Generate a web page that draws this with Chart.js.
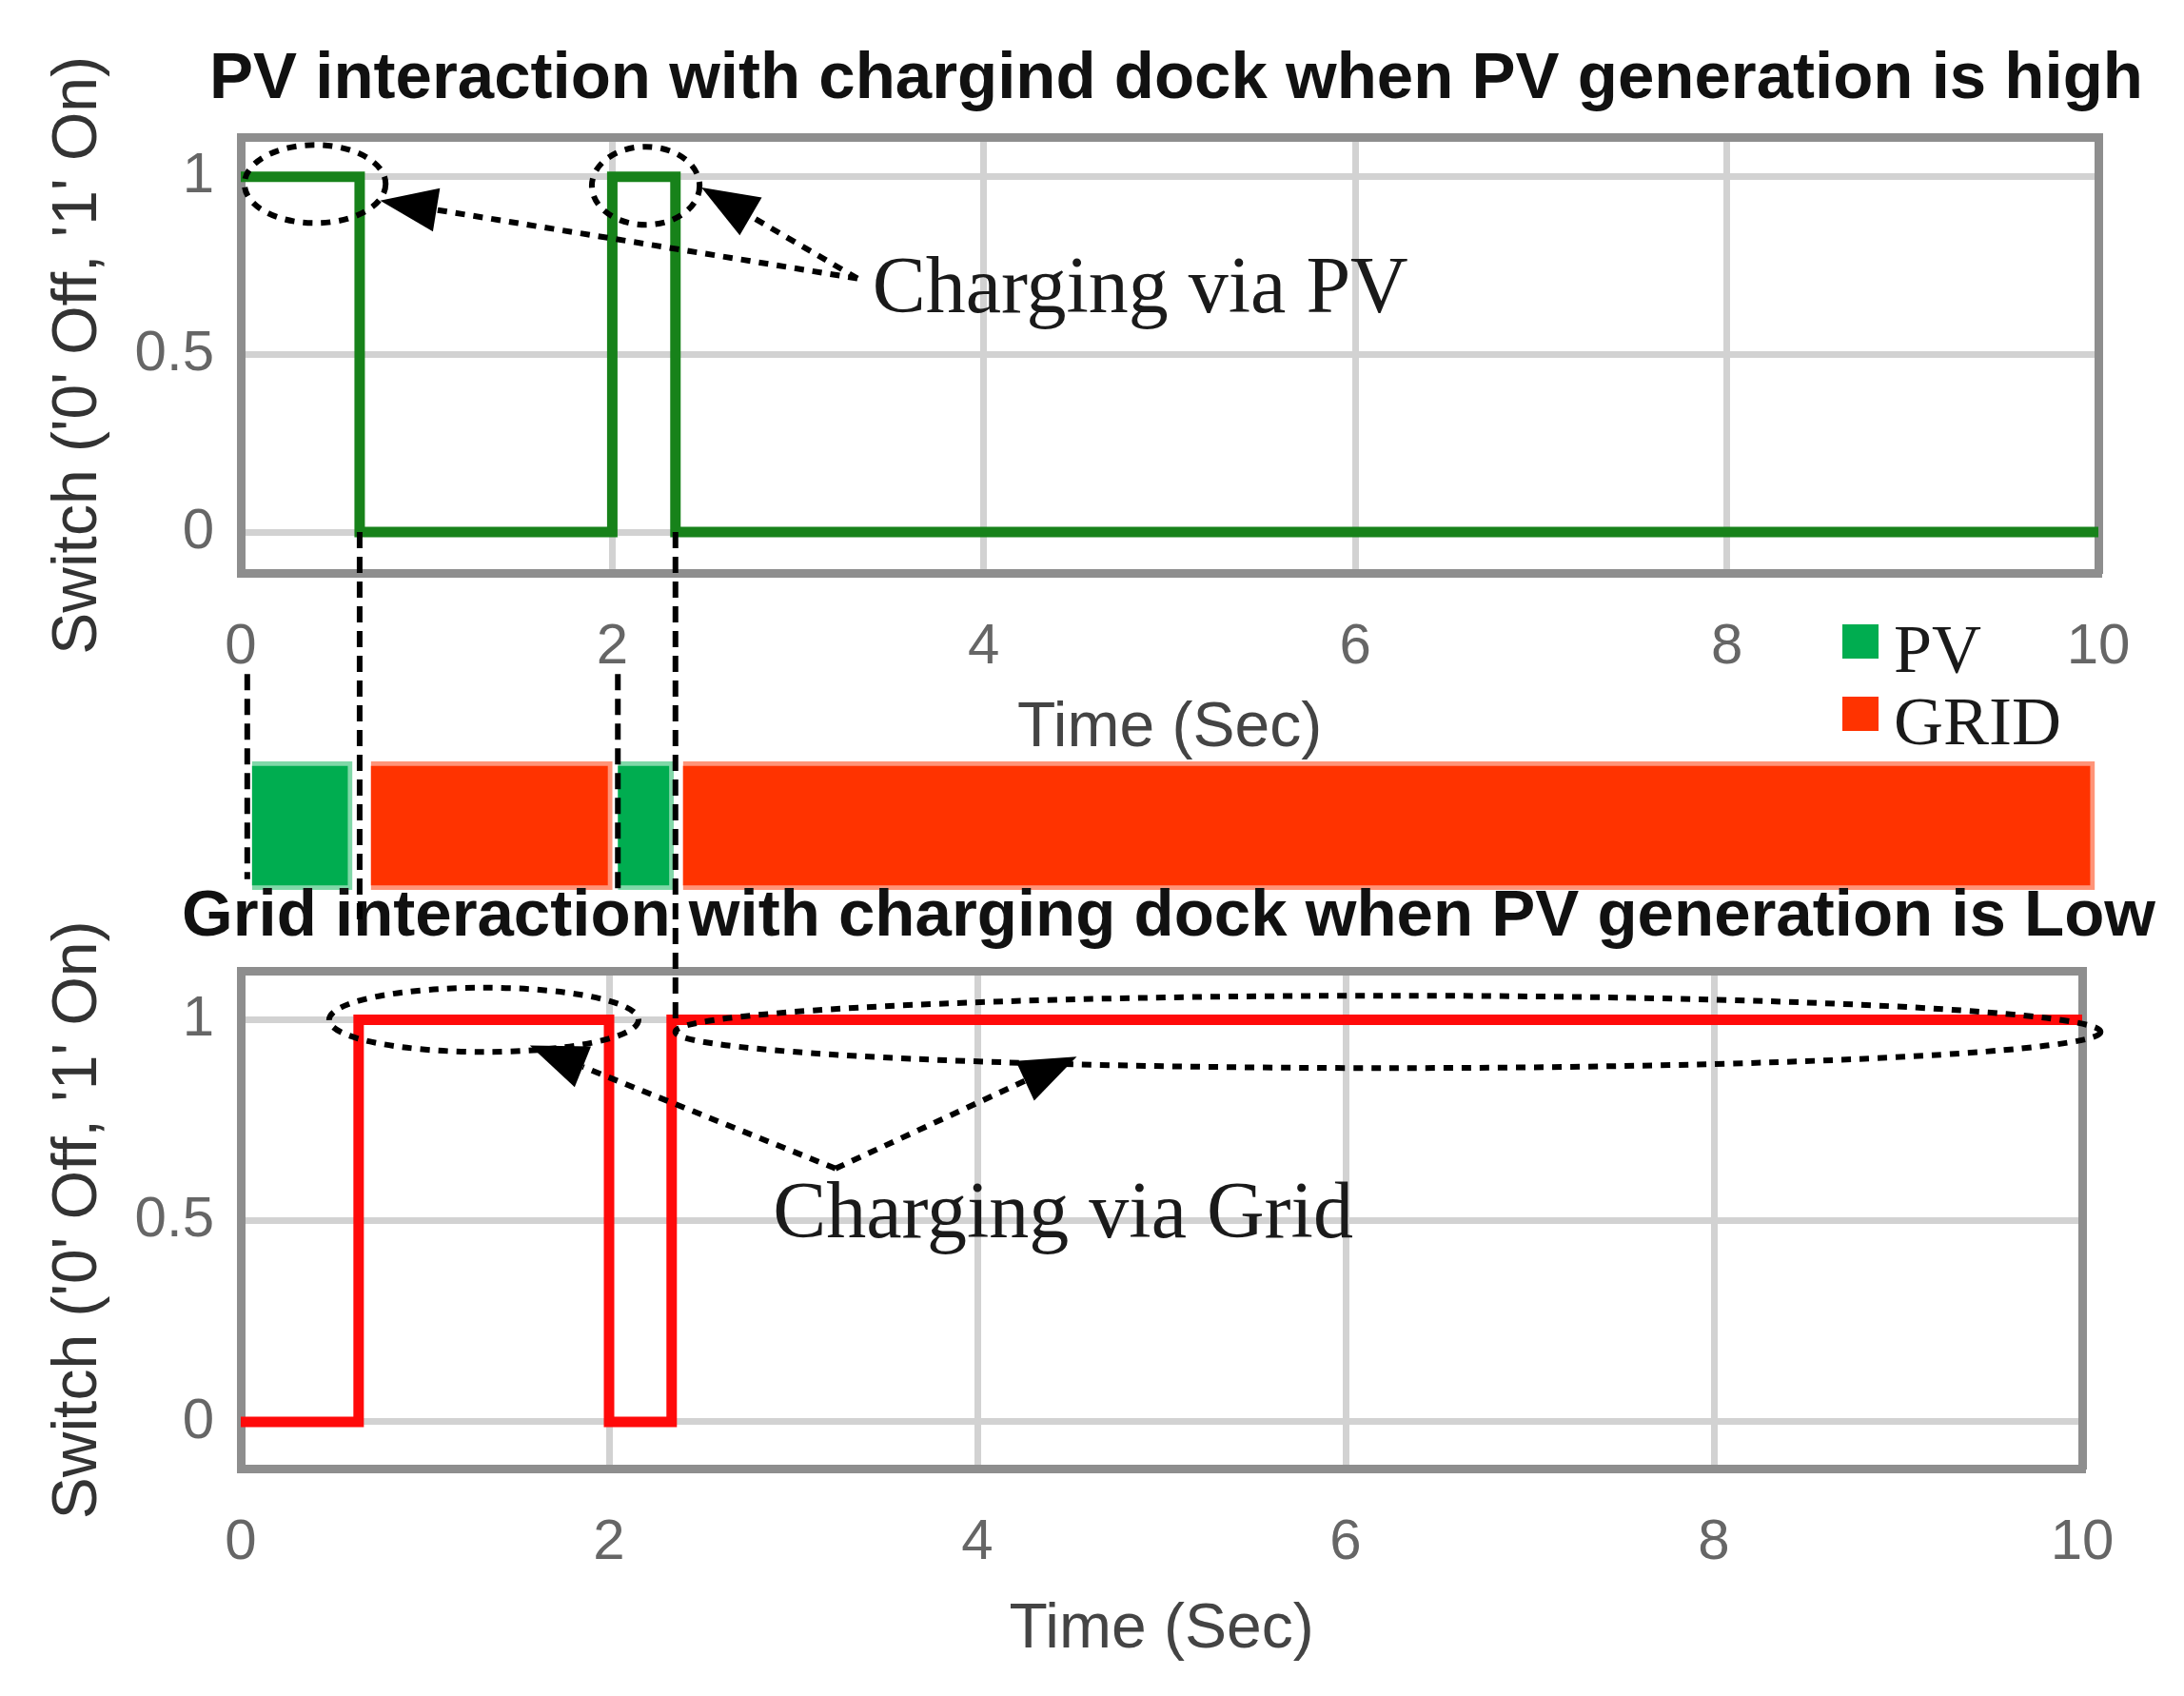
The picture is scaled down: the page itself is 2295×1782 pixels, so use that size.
<!DOCTYPE html>
<html>
<head>
<meta charset="utf-8">
<script src="https://cdn.jsdelivr.net/npm/chart.js@4.4.1/dist/chart.umd.min.js"></script>
<style>
  html, body { margin: 0; padding: 0; background: #fff; overflow: hidden; width: 2295px; height: 1782px; }
  canvas { position: absolute; left: 0; }
  #topChart { top: 0; }
  #barChart { top: 760px; }
  #bottomChart { top: 900px; }
  #overlay { top: 0; pointer-events: none; }
</style>
</head>
<body>
<canvas id="topChart" width="2472" height="820"></canvas>
<canvas id="barChart" width="2472" height="200"></canvas>
<canvas id="bottomChart" width="2456" height="882"></canvas>
<canvas id="overlay" width="2295" height="1782"></canvas>
<script>
// switching instants (sec) and the switch state after each instant
var switchTimes = [0, 0.64, 2.0, 2.34, 10];
var pvState = [1, 0, 1, 0, 0];
var gridState = [0, 1, 0, 1, 1];

// source bar between the two plots: [start, end] in sec
var pvSegments = [[0.06, 0.60], [2.03, 2.33]];
var gridSegments = [[0.70, 2.00], [2.38, 9.98]];

var xTickValues = [0, 2, 4, 6, 8, 10];
var yTickValues = [0, 0.5, 1];

Chart.defaults.font.family = "'Liberation Sans', Arial, sans-serif";

function switchPoints(states) {
    return switchTimes.map(function (t, i) { return { x: t, y: states[i] }; });
}
function fixWidth(w) { return function (scale) { scale.width = w; }; }
function fixHeight(h) { return function (scale) { scale.height = h; }; }

var borderStyle = { display: true, color: "#8e8e8e", width: 9 };
var gridStyle = { color: "#d2d2d2", lineWidth: 7, drawTicks: false };

function switchChart(id, o) {
    return new Chart(document.getElementById(id), {
        type: "line",
        data: {
            datasets: [{
                data: switchPoints(o.states),
                borderColor: o.color,
                borderWidth: 11,
                stepped: true,
                pointRadius: 0,
                fill: false
            }]
        },
        options: {
            responsive: false,
            animation: false,
            devicePixelRatio: 1,
            layout: { padding: 0 },
            plugins: {
                legend: { display: false },
                tooltip: { enabled: false },
                title: {
                    display: true,
                    text: o.title,
                    color: "#111",
                    font: { size: 69, weight: "bold" },
                    padding: o.titlePadding
                }
            },
            scales: {
                x: {
                    type: "linear", min: 0, max: 10,
                    afterBuildTicks: function (s) { s.ticks = xTickValues.map(function (v) { return { value: v }; }); },
                    afterFit: fixHeight(o.xAxisHeight),
                    grid: gridStyle,
                    border: borderStyle,
                    ticks: { padding: 42, color: "#666", font: { size: 60 } },
                    title: { display: true, text: "Time (Sec)", color: "#444", font: { size: 66 },
                             padding: { top: 0, bottom: o.xTitlePad } }
                },
                xTop: {
                    type: "linear", position: "top", min: 0, max: 10,
                    ticks: { display: false }, grid: { display: false },
                    border: borderStyle,
                    afterFit: fixHeight(0)
                },
                y: {
                    type: "linear", min: o.yMin, max: o.yMax,
                    afterBuildTicks: function (s) { s.ticks = yTickValues.map(function (v) { return { value: v }; }); },
                    afterFit: fixWidth(253),
                    grid: gridStyle,
                    border: borderStyle,
                    ticks: { padding: 28, color: "#666", font: { size: 60 },
                             callback: function (v) { return String(v); } },
                    title: { display: true, text: "Switch ('0' Off, '1' On)", color: "#333", font: { size: 66 },
                             padding: { top: 43, bottom: 0 } }
                },
                yRight: {
                    type: "linear", position: "right", min: o.yMin, max: o.yMax,
                    ticks: { display: false }, grid: { display: false },
                    border: borderStyle,
                    afterFit: fixWidth(o.rightWidth)
                }
            }
        }
    });
}

var topChart = switchChart("topChart", {
    states: pvState, color: "#17821a",
    title: "PV interaction with chargind dock when PV generation is high",
    titlePadding: { top: 43, bottom: 19 },
    xAxisHeight: 218, xTitlePad: 15,
    yMin: -0.115, yMax: 1.11, rightWidth: 2472 - 2205
});

var bottomChart = switchChart("bottomChart", {
    states: gridState, color: "#ff0a0a",
    title: "Grid interaction with charging dock when PV generation is Low",
    titlePadding: { top: 23, bottom: 15 },
    xAxisHeight: 239, xTitlePad: 30,
    yMin: -0.116, yMax: 1.12, rightWidth: 2456 - 2188
});

function segmentData(segs) {
    return segs.map(function (s) { return { x: s, y: "source" }; });
}

var barChart = new Chart(document.getElementById("barChart"), {
    type: "bar",
    data: {
        labels: ["source"],
        datasets: [{
            label: "PV",
            data: segmentData(pvSegments),
            backgroundColor: "#00ad50",
            borderColor: "#80d8a8",
            borderWidth: 5,
            grouped: false, barPercentage: 1, categoryPercentage: 1
        }, {
            label: "GRID",
            data: segmentData(gridSegments),
            backgroundColor: "#ff3300",
            borderColor: "#ff9478",
            borderWidth: 5,
            grouped: false, barPercentage: 1, categoryPercentage: 1
        }]
    },
    options: {
        indexAxis: "y",
        responsive: false,
        animation: false,
        devicePixelRatio: 1,
        layout: { padding: { left: 253, right: 267, top: 40, bottom: 25 } },
        plugins: { legend: { display: false }, tooltip: { enabled: false } },
        scales: {
            x: { type: "linear", min: 0, max: 10, display: false },
            y: { display: false }
        }
    }
});

// ---- annotations drawn over the three charts ----
var topOffset = 0, bottomOffset = 900;

function pt(chart, offset, x, y) {
    return { x: chart.scales.x.getPixelForValue(x), y: chart.scales.y.getPixelForValue(y) + offset };
}

// dashed connectors: time, y in top plot, y in bottom plot
var connectors = [
    { t: 0.035, fromY: -0.40, toY: 1.35 },
    { t: 0.64, fromY: 0, toY: 1.23 },
    { t: 2.03, fromY: -0.40, toY: 1.31 },
    { t: 2.34, fromY: 0, toY: 1 }
];
var topEllipses = [
    { cx: 0.40, cy: 0.98, rx: 0.38, ry: 0.11 },
    { cx: 2.18, cy: 0.975, rx: 0.29, ry: 0.11 }
];
var bottomEllipses = [
    { cx: 1.32, cy: 1.0, rx: 0.84, ry: 0.08 },
    { cx: 6.23, cy: 0.97, rx: 3.87, ry: 0.09 }
];
var topNote = { text: "Charging via PV", x: 3.40, y: 0.618, from: [3.32, 0.714], tips: [[0.75, 0.933], [2.48, 0.97]] };
var bottomNote = { text: "Charging via Grid", x: 2.89, y: 0.459, from: [3.23, 0.63], tips: [[1.57, 0.936], [4.54, 0.908]] };

var ctx = document.getElementById("overlay").getContext("2d");
ctx.strokeStyle = "#000";
ctx.fillStyle = "#000";
ctx.lineWidth = 6;

ctx.setLineDash([17, 9]);
connectors.forEach(function (c) {
    var a = pt(topChart, topOffset, c.t, c.fromY);
    var b = pt(bottomChart, bottomOffset, c.t, c.toY);
    ctx.beginPath();
    ctx.moveTo(a.x, a.y);
    ctx.lineTo(a.x, b.y);
    ctx.stroke();
});

function drawEllipses(chart, offset, list) {
    ctx.setLineDash([10, 9]);
    list.forEach(function (e) {
        var c = pt(chart, offset, e.cx, e.cy);
        var r = pt(chart, offset, e.cx + e.rx, e.cy + e.ry);
        ctx.beginPath();
        ctx.ellipse(c.x, c.y, Math.abs(r.x - c.x), Math.abs(r.y - c.y), 0, 0, Math.PI * 2);
        ctx.stroke();
    });
}

function drawNote(chart, offset, n) {
    var s = pt(chart, offset, n.from[0], n.from[1]);
    n.tips.forEach(function (tp) {
        var t = pt(chart, offset, tp[0], tp[1]);
        var ang = Math.atan2(t.y - s.y, t.x - s.x);
        var len = 60, half = 23;
        var bx = t.x - len * Math.cos(ang), by = t.y - len * Math.sin(ang);
        ctx.setLineDash([10, 9]);
        ctx.beginPath();
        ctx.moveTo(s.x, s.y);
        ctx.lineTo(bx, by);
        ctx.stroke();
        ctx.setLineDash([]);
        ctx.beginPath();
        ctx.moveTo(t.x, t.y);
        ctx.lineTo(bx + half * Math.sin(ang), by - half * Math.cos(ang));
        ctx.lineTo(bx - half * Math.sin(ang), by + half * Math.cos(ang));
        ctx.closePath();
        ctx.fill();
    });
    var p = pt(chart, offset, n.x, n.y);
    ctx.font = "84px 'Liberation Serif', 'Times New Roman', serif";
    ctx.fillStyle = "#1a1a1a";
    ctx.textBaseline = "alphabetic";
    ctx.fillText(n.text, p.x, p.y);
    ctx.fillStyle = "#000";
}

drawEllipses(topChart, topOffset, topEllipses);
drawEllipses(bottomChart, bottomOffset, bottomEllipses);
drawNote(topChart, topOffset, topNote);
drawNote(bottomChart, bottomOffset, bottomNote);

// legend for the source bar, items taken from the bar chart
var legendItems = Chart.defaults.plugins.legend.labels.generateLabels(barChart);
ctx.setLineDash([]);
ctx.font = "72px 'Liberation Serif', 'Times New Roman', serif";
legendItems.forEach(function (item, i) {
    var y = 656 + i * 76;
    ctx.fillStyle = item.fillStyle;
    ctx.fillRect(1936, y, 38, 36);
    ctx.fillStyle = "#1a1a1a";
    ctx.fillText(item.text, 1990, y + 50);
});
</script>
</body>
</html>
